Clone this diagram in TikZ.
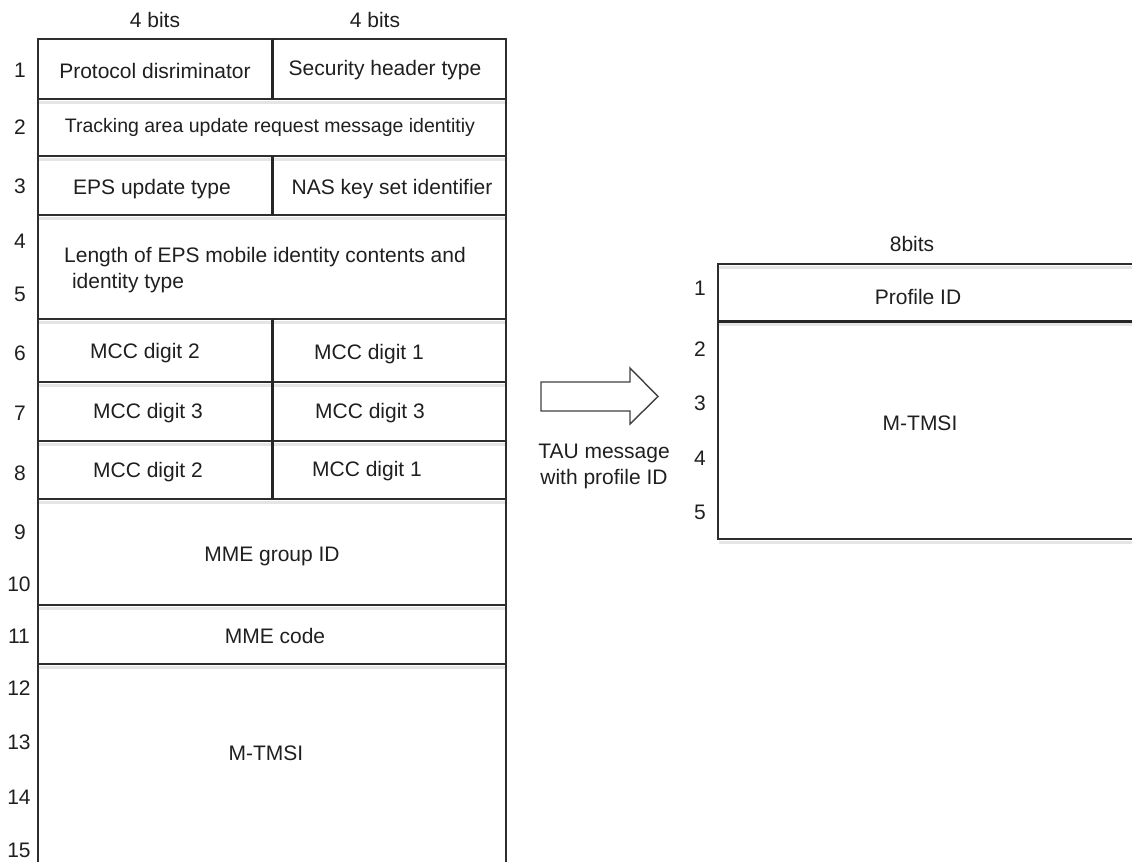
\documentclass[tikz,border=0pt]{standalone}
\usepackage{fontspec}
\setmainfont{Liberation Sans}
\begin{document}
\begin{tikzpicture}[x=1pt,y=-1pt,
  tbl/.style={line width=2pt, draw=black!82},
  divider/.style={line width=3pt, draw=black!85},
  shadowline/.style={line width=3pt, draw=black!10},
  lbl/.style={font=\fontsize{21}{25}\selectfont, inner sep=0pt, text=black!88},
  smalllbl/.style={font=\fontsize{19.5}{24}\selectfont, inner sep=0pt, text=black!88},
  num/.style={font=\fontsize{21}{25}\selectfont, inner sep=0pt, text=black!88},
  arrowline/.style={line width=1.4pt, draw=black!75, fill=white, line join=miter}
]
\useasboundingbox (0,0) rectangle (1132,862);
% shadows of the horizontal rules
\foreach \yy in {99,156,215,319,382,441,499,605,664}
  \draw[shadowline] (39,\yy+3) -- (505,\yy+3);
\foreach \yy in {264,321,539}
  \draw[shadowline] (719,\yy+3) -- (1132,\yy+3);
% left table frame
\draw[tbl] (38,862) -- (38,39) -- (506,39) -- (506,862);
\foreach \yy in {99,156,215,319,382,441,499,605,664}
  \draw[tbl] (38,\yy) -- (506,\yy);
\draw[divider] (272,39) -- (272,99);
\draw[divider] (272,156) -- (272,215);
\draw[divider] (272,319) -- (272,499);
% right table frame
\draw[tbl] (1132,264) -- (718,264) -- (718,539) -- (1132,539);
\draw[divider] (718,321) -- (1132,321);
% column headings
\node[lbl] (b1) at (155,20) {4 bits};
\node[lbl] (b2) at (375,20) {4 bits};
\node[lbl] (b3) at (912,244) {8bits};
% row numbers, left
\node[num] (n1) at (20,70) {1};
\node[num] (n2) at (20,127) {2};
\node[num] (n3) at (20,186) {3};
\node[num] (n4) at (20,241) {4};
\node[num] (n5) at (20,294) {5};
\node[num] (n6) at (20,353) {6};
\node[num] (n7) at (20,413) {7};
\node[num] (n8) at (20,473) {8};
\node[num] (n9) at (20,532) {9};
\node[num] (n10) at (19,584) {10};
\node[num] (n11) at (19,636) {11};
\node[num] (n12) at (19,688) {12};
\node[num] (n13) at (19,742) {13};
\node[num] (n14) at (19,797) {14};
\node[num] (n15) at (19,850) {15};
% left cell texts
\node[lbl] (pd) at (155,71) {Protocol disriminator};
\node[lbl] (sh) at (385,70) {Security header type};
\node[smalllbl] (ta) at (270,127) {Tracking area update request message identitiy};
\node[lbl] (eu) at (152,189) {EPS update type};
\node[lbl] (nk) at (392,189) {NAS key set identifier};
\node[lbl, anchor=west] (le1) at (64,257) {Length of EPS mobile identity contents and};
\node[lbl, anchor=west] (le2) at (66,283) {\ identity type};
\node[lbl] (m62) at (145,353) {MCC digit 2};
\node[lbl] (m61) at (369,354) {MCC digit 1};
\node[lbl] (m73) at (148,413) {MCC digit 3};
\node[lbl] (m73b) at (370,413) {MCC digit 3};
\node[lbl] (m82) at (148,472) {MCC digit 2};
\node[lbl] (m81) at (367,471) {MCC digit 1};
\node[lbl] (mg) at (272,556) {MME group ID};
\node[lbl] (mc) at (275,636) {MME code};
\node[lbl] (mt) at (266,753) {M-TMSI};
% right box
\node[num] (r1) at (700,288) {1};
\node[num] (r2) at (700,349) {2};
\node[num] (r3) at (700,403) {3};
\node[num] (r4) at (700,458) {4};
\node[num] (r5) at (700,512) {5};
\node[lbl] (pid) at (918,297) {Profile ID};
\node[lbl] (mt2) at (920,423) {M-TMSI};
% block arrow
\draw[arrowline] (541,382) -- (630,382) -- (630,368) -- (658,396.5) -- (630,424) -- (630,411) -- (541,411) -- cycle;
\node[lbl, align=center, font=\fontsize{21}{26}\selectfont] (tau) at (604,466) {TAU message\\ with profile ID};
\end{tikzpicture}
\end{document}
